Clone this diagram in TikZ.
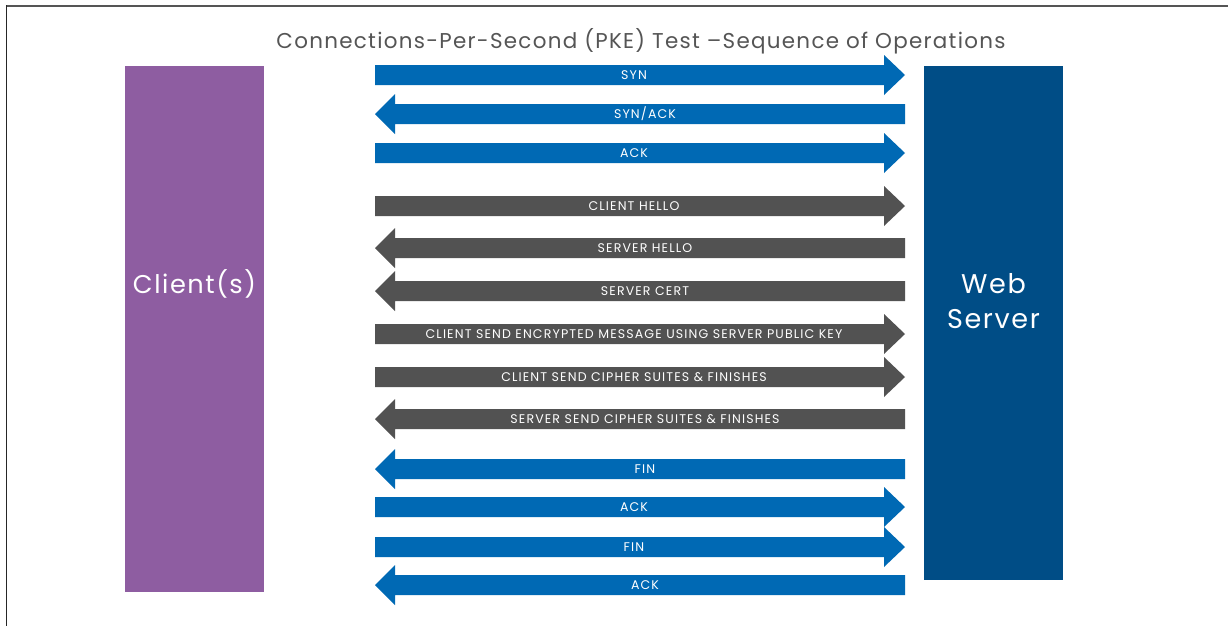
\documentclass[tikz,border=0pt]{standalone}
\usepackage{fontspec}
\setmainfont{Poppins}
\newfontfamily\ttlfont[LetterSpace=6]{Poppins}
\newfontfamily\lblfont[LetterSpace=9]{Poppins}
\newfontfamily\bigfont[LetterSpace=6]{Poppins}
\definecolor{ablue}{HTML}{0069B4}
\definecolor{agray}{HTML}{525252}
\definecolor{cpurple}{HTML}{8E5DA1}
\definecolor{sblue}{HTML}{004D86}
\definecolor{ttl}{HTML}{555555}
\begin{document}
\begin{tikzpicture}[x=0.02cm,y=-0.02cm,
  lbl/.style={text=white,font=\lblfont\fontsize{7.15}{7}\selectfont,inner sep=0pt},
  bigtxt/.style={text=white,align=center,inner sep=0pt},
  endbox/.style={draw=none,inner sep=0pt,minimum width=2.78cm},
]
\useasboundingbox (0,0) rectangle (1228,626);
\fill[white] (0,0) rectangle (1228,626);
\draw[ttl,line width=0.04cm] (6,5.5) -- (1228,5.5);
\draw[black!85,line width=0.03cm] (6.5,5) -- (6.5,626);

\node[text=ttl,font=\ttlfont\fontsize{12.2}{12}\selectfont,inner sep=0pt] (title) at (641,41) {Connections-Per-Second (PKE) Test –Sequence of Operations};

\node[endbox,fill=cpurple,minimum height=10.52cm] (client) at (194.5,329) {};
\node[bigtxt,font=\bigfont\fontsize{14.6}{20}\selectfont] (clienttxt) at (194.5,284) {Client(s)};
\node[endbox,fill=sblue,minimum height=10.28cm] (server) at (993.5,323) {};
\node[bigtxt,font=\bigfont\fontsize{15.4}{20}\selectfont] (servertxt) at (993.5,301) {Web\\Server};

% arrows pointing to the server
\foreach \y/\c/\t in {75/ablue/SYN, 153/ablue/ACK, 206/agray/CLIENT HELLO,
   334/agray/CLIENT SEND ENCRYPTED MESSAGE USING SERVER PUBLIC KEY,
   377/agray/CLIENT SEND CIPHER SUITES \& FINISHES, 507/ablue/ACK, 547/ablue/FIN}{
  \fill[\c] (375,\y-10) -- (884,\y-10) -- (884,\y-20) -- (905,\y) -- (884,\y+20) -- (884,\y+10) -- (375,\y+10) -- cycle;
  \node[lbl] (r\y) at (634,\y) {\t};
}
% arrows pointing to the client
\foreach \y/\c/\t in {114/ablue/{SYN/ACK}, 248/agray/SERVER HELLO, 291/agray/SERVER CERT,
   419/agray/SERVER SEND CIPHER SUITES \& FINISHES, 469/ablue/FIN, 585/ablue/ACK}{
  \fill[\c] (905,\y-10) -- (395,\y-10) -- (395,\y-20) -- (375,\y) -- (395,\y+20) -- (395,\y+10) -- (905,\y+10) -- cycle;
  \node[lbl] (l\y) at (645,\y) {\t};
}
\end{tikzpicture}
\end{document}
